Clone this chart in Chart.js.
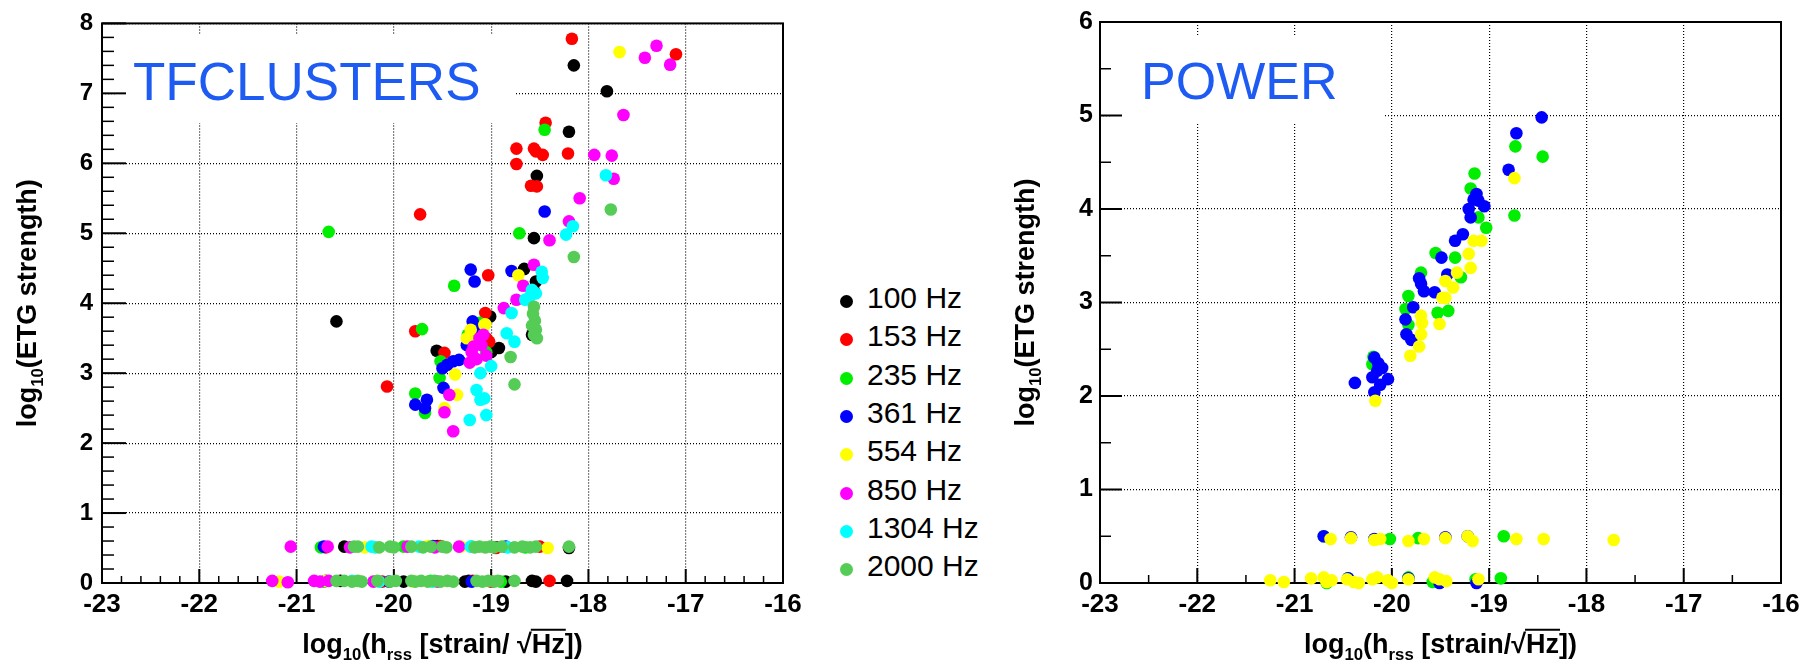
<!DOCTYPE html>
<html>
<head>
<meta charset="utf-8">
<script src="https://cdn.jsdelivr.net/npm/chart.js@4.4.1/dist/chart.umd.min.js"></script>
<style>
  html, body { margin: 0; padding: 0; background: #fff; }
  body { width: 1818px; height: 665px; position: relative; overflow: hidden;
         font-family: "Liberation Sans", Arial, Helvetica, sans-serif; }
  canvas { position: absolute; top: 0; }
  #tfc { left: 0; }
  #pow { left: 1000px; }
  .leg { position: absolute; height: 38px; line-height: 38px; font-size: 30px; color: #000; white-space: nowrap; }
  .leg i { position: absolute; width: 13px; height: 13px; border-radius: 50%; top: 14px; }
  .leg span { position: absolute; left: 27px; top: -2px; }
</style>
</head>
<body>
<canvas id="tfc" width="820" height="665"></canvas>
<canvas id="pow" width="818" height="665"></canvas>
<div id="legend"></div>
<script>
const FONT = '"Liberation Sans", Arial, Helvetica, sans-serif';

const freqLabels = ['100 Hz', '153 Hz', '235 Hz', '361 Hz', '554 Hz', '850 Hz', '1304 Hz', '2000 Hz'];
const freqColors = ['#000000', '#ff0000', '#00ee00', '#0000ff', '#ffff00', '#ff00ff', '#00ffff', '#55cc55'];
const xTicks = [-23, -22, -21, -20, -19, -18, -17, -16];

// TFCLUSTERS: [log10 hrss, log10 ETG strength]
const tfc100 = [
  [-18.15, 7.40], [-17.81, 7.03], [-18.20, 6.45], [-18.53, 5.82], [-18.56, 4.93], [-18.66, 4.49], [-18.54, 4.31],
  [-18.56, 4.18], [-20.59, 3.74], [-19.01, 3.81], [-19.56, 3.32], [-18.92, 3.36], [-19.00, 3.30], [-18.58, 3.55],
  [-18.55, 3.62],
  [-20.51, 0.52], [-19.55, 0.53], [-18.20, 0.50], [-18.95, 0.51],
  [-19.27, 0.02], [-19.23, 0.03], [-18.85, 0.02], [-18.58, 0.03], [-18.54, 0.02], [-18.22, 0.03], [-19.90, 0.02],
  [-20.55, 0.03]
];
const tfc153 = [
  [-18.17, 7.78], [-17.10, 7.56], [-18.44, 6.58], [-18.74, 6.21], [-18.74, 5.99], [-18.56, 6.21], [-18.54, 6.17],
  [-18.47, 6.12], [-18.21, 6.14], [-18.59, 5.68], [-18.53, 5.67], [-19.73, 5.27], [-19.03, 4.40], [-19.06, 3.86],
  [-19.78, 3.60], [-19.48, 3.29], [-20.07, 2.81], [-19.05, 3.50], [-19.02, 3.45],
  [-20.70, 0.51], [-19.52, 0.53], [-18.95, 0.50], [-18.50, 0.52],
  [-19.19, 0.03], [-18.40, 0.03], [-20.12, 0.02], [-19.00, 0.02]
];
const tfc235 = [
  [-18.45, 6.48], [-20.67, 5.02], [-18.71, 5.00], [-19.38, 4.25], [-19.71, 3.63], [-19.52, 3.17], [-19.53, 2.93],
  [-19.78, 2.71], [-19.68, 2.43], [-19.12, 3.72], [-19.24, 3.55], [-19.05, 3.30],
  [-20.75, 0.51], [-19.90, 0.52], [-19.20, 0.52], [-18.65, 0.51],
  [-20.72, 0.02], [-19.62, 0.03], [-18.90, 0.02]
];
const tfc361 = [
  [-18.45, 5.31], [-19.21, 4.48], [-19.17, 4.31], [-18.79, 4.46], [-19.19, 3.74], [-19.17, 3.64], [-19.39, 3.17],
  [-19.33, 3.19], [-19.50, 3.07], [-19.45, 3.12], [-19.49, 2.79], [-19.78, 2.55], [-19.66, 2.62], [-19.68, 2.50],
  [-19.25, 3.40],
  [-20.72, 0.52], [-19.60, 0.53], [-18.85, 0.52],
  [-20.05, 0.02], [-19.20, 0.02], [-20.70, 0.03]
];
const tfc554 = [
  [-17.68, 7.59], [-18.72, 4.40], [-19.06, 3.70], [-19.21, 3.62], [-19.07, 3.69], [-19.37, 2.98], [-19.35, 2.69],
  [-19.48, 2.50], [-19.15, 3.45], [-19.25, 3.50],
  [-19.65, 0.53], [-19.31, 0.52], [-18.42, 0.50], [-20.30, 0.51],
  [-21.18, 0.02], [-20.70, 0.03], [-19.80, 0.02]
];
const tfc850 = [
  [-17.42, 7.51], [-17.30, 7.68], [-17.16, 7.41], [-17.64, 6.69], [-17.94, 6.12], [-17.76, 6.11], [-17.74, 5.78],
  [-18.09, 5.50], [-18.20, 5.17], [-18.40, 4.90], [-18.56, 4.55], [-18.67, 4.25], [-18.74, 4.05], [-18.87, 3.93],
  [-19.43, 2.69], [-19.48, 2.44], [-19.39, 2.17],
  [-19.20, 3.30], [-19.15, 3.20], [-19.10, 3.40], [-19.05, 3.25], [-19.22, 3.15], [-19.12, 3.50], [-19.18, 3.38],
  [-19.08, 3.55],
  [-21.06, 0.52], [-20.68, 0.52], [-20.45, 0.51], [-19.86, 0.52], [-19.58, 0.51], [-19.33, 0.52],
  [-21.25, 0.03], [-21.09, 0.01], [-20.82, 0.03], [-20.76, 0.02], [-20.67, 0.03], [-20.21, 0.02], [-19.55, 0.02]
];
const tfc1304 = [
  [-17.82, 5.83], [-18.16, 5.10], [-18.23, 4.98], [-18.48, 4.45], [-18.47, 4.36], [-18.58, 4.19], [-18.60, 4.10],
  [-18.54, 4.14], [-18.65, 4.05], [-18.79, 3.86], [-18.84, 3.57], [-18.76, 3.45], [-19.00, 3.10], [-19.11, 3.00],
  [-19.15, 2.76], [-19.11, 2.62], [-19.07, 2.64], [-19.22, 2.33], [-19.05, 2.40],
  [-20.23, 0.52], [-20.19, 0.51], [-19.74, 0.52], [-19.21, 0.52], [-18.83, 0.51],
  [-20.43, 0.03], [-20.15, 0.02], [-19.60, 0.02]
];
const tfc2000 = [
  [-17.77, 5.34], [-18.15, 4.66], [-18.56, 3.95], [-18.57, 3.85], [-18.55, 3.75], [-18.58, 3.68], [-18.54, 3.62],
  [-18.56, 3.55], [-18.53, 3.50], [-18.80, 3.23], [-18.76, 2.84],
  [-20.41, 0.52], [-20.37, 0.52], [-20.15, 0.51], [-20.04, 0.52], [-20.00, 0.51], [-19.82, 0.52], [-19.70, 0.51],
  [-19.62, 0.52], [-19.50, 0.52], [-19.46, 0.51], [-19.17, 0.51], [-19.12, 0.52], [-19.06, 0.51], [-19.01, 0.52],
  [-18.97, 0.51], [-18.89, 0.52], [-18.76, 0.51], [-18.68, 0.52], [-18.60, 0.51], [-18.54, 0.52], [-18.20, 0.52],
  [-20.59, 0.03], [-20.51, 0.03], [-20.43, 0.02], [-20.37, 0.03], [-20.33, 0.02], [-20.17, 0.03], [-20.04, 0.02],
  [-19.98, 0.03], [-19.82, 0.03], [-19.78, 0.02], [-19.72, 0.03], [-19.65, 0.02], [-19.58, 0.03], [-19.52, 0.02],
  [-19.45, 0.03], [-19.39, 0.02], [-19.15, 0.03], [-19.09, 0.02], [-19.03, 0.03], [-18.97, 0.02], [-18.93, 0.03],
  [-18.76, 0.03]
];

// POWER: only 235, 361 and 554 Hz show up
const pow235 = [
  [-18.73, 4.67], [-18.45, 4.56], [-18.74, 3.93], [-19.15, 4.38], [-19.19, 4.22], [-19.03, 3.80], [-19.11, 3.91],
  [-19.35, 3.48], [-19.55, 3.53], [-19.70, 3.32], [-19.29, 3.27], [-19.83, 3.07], [-19.86, 2.93], [-19.53, 2.89],
  [-19.42, 2.91], [-19.83, 2.76], [-20.20, 2.34], [-20.19, 2.42],
  [-20.70, 0.50], [-20.02, 0.47], [-19.73, 0.48], [-18.85, 0.50],
  [-20.67, 0.00], [-20.45, 0.05], [-19.83, 0.06], [-19.58, 0.01], [-19.14, 0.04], [-18.88, 0.05]
];
const pow361 = [
  [-18.46, 4.98], [-18.72, 4.81], [-18.80, 4.42], [-19.16, 4.10], [-19.11, 4.09], [-19.05, 4.03], [-19.21, 4.00],
  [-19.19, 3.91], [-19.13, 4.16], [-19.27, 3.73], [-19.35, 3.66], [-19.49, 3.48], [-19.43, 3.30], [-19.70, 3.20],
  [-19.67, 3.12], [-19.56, 3.11], [-19.72, 3.26], [-19.86, 2.82], [-19.78, 2.95], [-19.85, 2.66], [-19.80, 2.60],
  [-20.15, 2.27], [-20.10, 2.30], [-20.04, 2.18], [-20.20, 2.20], [-20.12, 2.12], [-20.18, 2.04], [-20.38, 2.14],
  [-20.18, 2.41], [-20.14, 2.35],
  [-20.70, 0.50], [-20.42, 0.49], [-20.18, 0.47], [-19.45, 0.49], [-19.22, 0.50],
  [-19.83, 0.05], [-19.51, 0.00], [-19.13, 0.00], [-20.45, 0.05]
];
const pow554 = [
  [-18.74, 4.33], [-19.16, 3.66], [-19.08, 3.66], [-19.21, 3.52], [-19.19, 3.37], [-19.33, 3.32], [-19.45, 3.23],
  [-19.37, 3.16], [-19.45, 3.05], [-19.48, 3.05], [-19.51, 2.77], [-19.70, 2.86], [-19.70, 2.66], [-19.72, 2.53],
  [-19.81, 2.43], [-19.69, 2.78], [-20.17, 1.95],
  [-20.63, 0.47], [-20.42, 0.48], [-20.18, 0.46], [-20.12, 0.47], [-19.83, 0.45], [-19.67, 0.47], [-19.45, 0.48],
  [-19.22, 0.50], [-19.17, 0.45], [-18.72, 0.47], [-18.44, 0.47], [-17.72, 0.46],
  [-21.25, 0.03], [-21.11, 0.01], [-20.83, 0.05], [-20.70, 0.06], [-20.67, 0.01], [-20.62, 0.03], [-20.46, 0.04],
  [-20.39, 0.01], [-20.34, 0.00], [-20.20, 0.04], [-20.15, 0.06], [-20.04, 0.03], [-20.00, 0.00], [-19.83, 0.04],
  [-19.56, 0.06], [-19.51, 0.04], [-19.44, 0.02], [-19.11, 0.04]
];

// bold text with subscripts and an overbar for the square root
function runsWidth(ctx, runs, size) {
  let w = 0;
  runs.forEach(r => {
    ctx.font = 'bold ' + (r.sub ? size * 0.62 : size) + 'px ' + FONT;
    w += ctx.measureText(r.t).width;
  });
  return w;
}
function drawRuns(ctx, runs, cx, y, size) {
  let x = cx - runsWidth(ctx, runs, size) / 2;
  ctx.textAlign = 'left';
  ctx.textBaseline = 'alphabetic';
  runs.forEach(r => {
    ctx.font = 'bold ' + (r.sub ? size * 0.62 : size) + 'px ' + FONT;
    const w = ctx.measureText(r.t).width;
    ctx.fillText(r.t, x, y + (r.sub ? size * 0.27 : 0));
    if (r.over) {
      ctx.lineWidth = 2;
      ctx.beginPath();
      ctx.moveTo(x - 1, y - size * 0.86);
      ctx.lineTo(x + w + 1, y - size * 0.86);
      ctx.stroke();
    }
    x += w;
  });
}

const yTitle = [{ t: 'log' }, { t: '10', sub: true }, { t: '(ETG strength)' }];
function xTitle(gap) {
  return [{ t: 'log' }, { t: '10', sub: true }, { t: '(h' }, { t: 'rss', sub: true },
          { t: ' [strain/' + gap + '\u221A' }, { t: 'Hz', over: true }, { t: '])' }];
}

// frame, inward ticks, name box and axis titles
const framePlugin = {
  id: 'frame',
  beforeDatasetsDraw(chart, args, o) {
    const { ctx, chartArea: a } = chart;
    const xs = chart.scales.x, ys = chart.scales.y;
    ctx.save();
    ctx.fillStyle = '#fff';
    ctx.fillRect(o.box[0], o.box[1], o.box[2] - o.box[0], o.box[3] - o.box[1]);
    ctx.fillStyle = '#1d5bf2';
    ctx.font = o.nameSize + 'px ' + FONT;
    ctx.textAlign = 'left';
    ctx.textBaseline = 'alphabetic';
    ctx.fillText(o.name, o.nameX, o.nameY);

    ctx.strokeStyle = '#000';
    const ny = (ys.max - ys.min) * o.yDiv;
    for (let i = 0; i <= ny; i++) {
      const py = ys.getPixelForValue(ys.min + i / o.yDiv);
      const major = i % o.yDiv === 0;
      ctx.lineWidth = major ? 2 : 1.5;
      ctx.beginPath();
      ctx.moveTo(a.left, py);
      ctx.lineTo(a.left + (major ? o.yMajor : o.yMinor), py);
      ctx.stroke();
    }
    const nx = (xs.max - xs.min) * o.xDiv;
    for (let i = 0; i <= nx; i++) {
      const px = xs.getPixelForValue(xs.min + i / o.xDiv);
      const major = i % o.xDiv === 0;
      ctx.lineWidth = major ? 2 : 1.5;
      ctx.beginPath();
      ctx.moveTo(px, a.bottom);
      ctx.lineTo(px, a.bottom - (major ? o.xMajor : o.xMinor));
      ctx.stroke();
    }
    ctx.lineWidth = 2;
    ctx.strokeRect(a.left, a.top, a.right - a.left, a.bottom - a.top);

    ctx.fillStyle = '#000';
    ctx.strokeStyle = '#000';
    drawRuns(ctx, o.xTitle, (a.left + a.right) / 2, o.xTitleY, 27);
    ctx.translate(o.yTitleX, (a.top + a.bottom) / 2);
    ctx.rotate(-Math.PI / 2);
    drawRuns(ctx, yTitle, 0, 0, 27);
    ctx.restore();
  }
};

function makeChart(id, series, colors, names, yMax, axisWidth, yFont, yPad, frame) {
  return new Chart(document.getElementById(id), {
    type: 'scatter',
    data: {
      datasets: series.map((pts, i) => ({
        label: names[i],
        data: pts.map(([x, y]) => ({ x: x, y: y })),
        backgroundColor: colors[i],
        borderWidth: 0,
        pointRadius: 6.3,
        pointHoverRadius: 6.3,
        clip: false,
        order: series.length - i
      }))
    },
    options: {
      responsive: false,
      animation: false,
      events: [],
      layout: { padding: { top: 21, right: 37, left: 0, bottom: 0 } },
      plugins: { legend: { display: false }, tooltip: { enabled: false }, frame: frame },
      scales: {
        x: {
          type: 'linear', min: -23, max: -16,
          afterFit(s) { s.height = 82; },
          afterBuildTicks(s) { s.ticks = xTicks.map(v => ({ value: v })); },
          grid: { color: '#000', lineWidth: 1.2, drawTicks: false },
          border: { display: false, dash: [1, 2] },
          ticks: { color: '#000', padding: 6, maxRotation: 0, autoSkip: false,
                   font: { family: FONT, size: 26, weight: 'bold' } }
        },
        y: {
          type: 'linear', min: 0, max: yMax,
          afterFit(s) { s.width = axisWidth; },
          grid: { color: '#000', lineWidth: 1.2, drawTicks: false },
          border: { display: false, dash: [1, 2] },
          ticks: { color: '#000', padding: yPad, stepSize: 1,
                   font: { family: FONT, size: yFont, weight: 'bold' } }
        }
      }
    },
    plugins: [framePlugin]
  });
}

makeChart('tfc',
  [tfc100, tfc153, tfc235, tfc361, tfc554, tfc850, tfc1304, tfc2000],
  freqColors, freqLabels, 8, 102, 24, 9,
  { name: 'TFCLUSTERS', nameSize: 53, nameX: 133, nameY: 100, box: [115, 35, 516, 123],
    yDiv: 5, xDiv: 5, yMajor: 24, yMinor: 12, xMajor: 14, xMinor: 7,
    xTitle: xTitle(' '), xTitleY: 653, yTitleX: 36 });

makeChart('pow',
  [pow235, pow361, pow554],
  [freqColors[2], freqColors[3], freqColors[4]],
  [freqLabels[2], freqLabels[3], freqLabels[4]], 6, 100, 25, 7,
  { name: 'POWER', nameSize: 52, nameX: 141, nameY: 99, box: [112, 35, 385, 122],
    yDiv: 2, xDiv: 2, yMajor: 22, yMinor: 11, xMajor: 15, xMinor: 8,
    xTitle: xTitle(''), xTitleY: 653, yTitleX: 34 });

// legend between the two panels
const legend = document.getElementById('legend');
freqLabels.forEach((name, i) => {
  const row = document.createElement('div');
  row.className = 'leg';
  row.style.left = '840px';
  row.style.top = (302 + 38.3 * i - 21) + 'px';
  row.innerHTML = '<i style="background:' + freqColors[i] + '"></i><span>' + name + '</span>';
  legend.appendChild(row);
});
</script>
</body>
</html>
